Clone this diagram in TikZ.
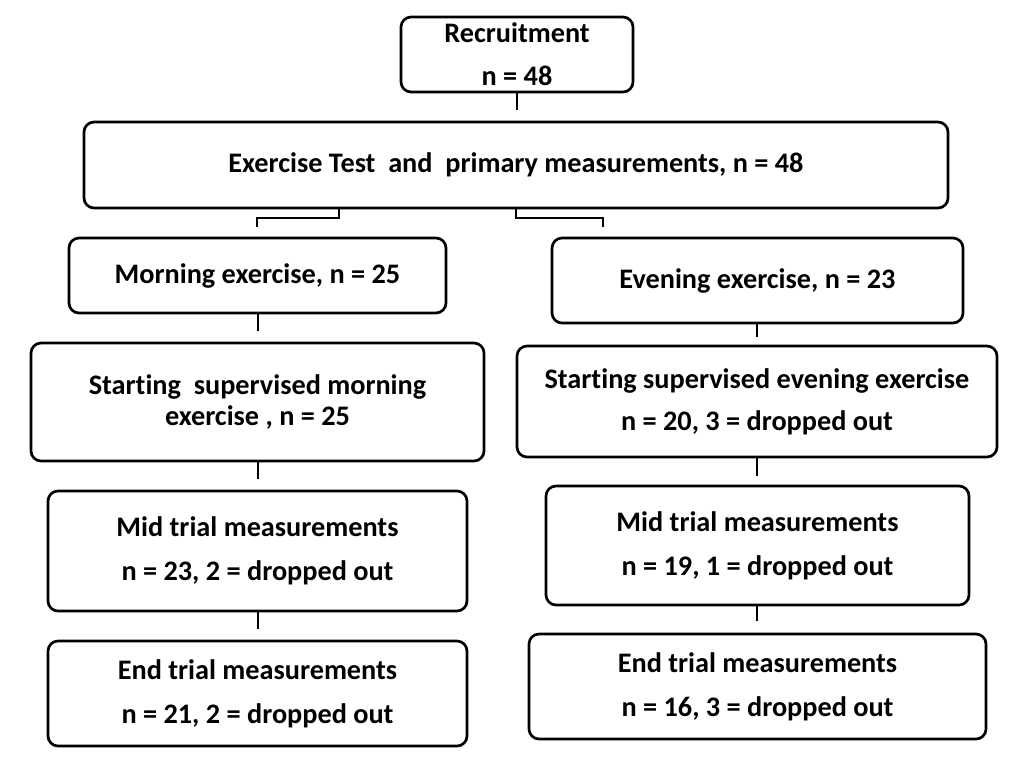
\documentclass[tikz,border=0pt]{standalone}
\usepackage{fontspec}
\setmainfont{Carlito}[Ligatures={NoCommon}]
\begin{document}
\begin{tikzpicture}[x=0.75pt,y=-0.75pt,
  box/.style={draw=black, line width=2pt, rounded corners=7.5pt, fill=white,
    inner sep=0pt, align=center, font=\fontsize{21.2}{32.5}\selectfont\bfseries},
  link/.style={draw=black, line width=2pt}]
\useasboundingbox (0,0) rectangle (1024,768);

\node[box, minimum width=174pt, minimum height=56.25pt] (rec) at (517,54.5) {Recruitment\\n = 48};
\node[box, minimum width=648pt, minimum height=64.5pt] (ex) at (516,165) {Exercise Test\ \ and\ \ primary measurements, n = 48};
\node[box, minimum width=282.75pt, minimum height=56.25pt] (morn) at (257.5,275.5) {Morning exercise, n = 25};
\node[box, minimum width=308.25pt, minimum height=63.75pt] (even) at (757.5,280.5) {Evening exercise, n = 23};
\node[box, minimum width=339.75pt, minimum height=88.5pt, font=\fontsize{21.2}{23.5}\selectfont\bfseries] (smorn) at (257.5,402) {Starting\ \ supervised morning\\exercise , n = 25};
\node[box, minimum width=360pt, minimum height=83.25pt, font=\fontsize{21.2}{31.5}\selectfont\bfseries] (seven) at (757,401.5) {Starting supervised evening exercise\\n = 20, 3 = dropped out};
\node[box, minimum width=314.25pt, minimum height=90pt, font=\fontsize{21.2}{33}\selectfont\bfseries] (mmorn) at (257.5,551) {Mid trial measurements\\n = 23, 2 = dropped out};
\node[box, minimum width=317.25pt, minimum height=89.25pt, font=\fontsize{21.2}{33}\selectfont\bfseries] (meven) at (757.5,545.5) {Mid trial measurements\\n = 19, 1 = dropped out};
\node[box, minimum width=314.25pt, minimum height=78.75pt, font=\fontsize{21.2}{33}\selectfont\bfseries] (emorn) at (257.5,693.5) {End trial measurements\\n = 21, 2 = dropped out};
\node[box, minimum width=342.75pt, minimum height=78.75pt, font=\fontsize{21.2}{33}\selectfont\bfseries] (eeven) at (757.5,686.5) {End trial measurements\\n = 16, 3 = dropped out};

% stub from recruitment
\coordinate (r1) at (517,110);
\draw[link] (rec.south) -- (r1);

% brackets
\coordinate (bl1) at (339,218);
\coordinate (bl2) at (257,218);
\coordinate (bl3) at (257,227);
\draw[link] (ex.south -| bl1) -- (bl1) -- (bl2) -- (bl3);
\coordinate (br1) at (516,218);
\coordinate (br2) at (603,218);
\coordinate (br3) at (603,227);
\draw[link] (ex.south -| br1) -- (br1) -- (br2) -- (br3);

% stubs left
\coordinate (l1) at (258,331);
\coordinate (l2) at (258,479);
\coordinate (l3) at (258,629);
\draw[link] (morn.south -| l1) -- (l1);
\draw[link] (smorn.south -| l2) -- (l2);
\draw[link] (mmorn.south -| l3) -- (l3);

% stubs right
\coordinate (q1) at (757,337);
\coordinate (q2) at (757,476);
\coordinate (q3) at (757,621);
\draw[link] (even.south -| q1) -- (q1);
\draw[link] (seven.south -| q2) -- (q2);
\draw[link] (meven.south -| q3) -- (q3);
\end{tikzpicture}
\end{document}
